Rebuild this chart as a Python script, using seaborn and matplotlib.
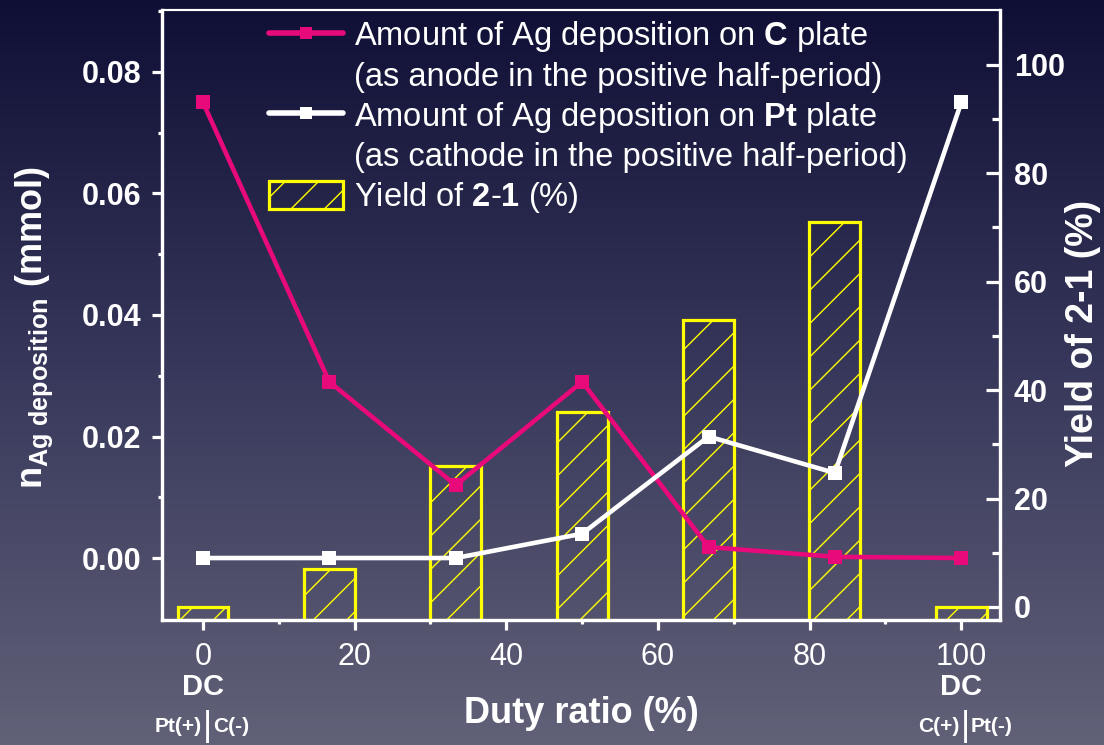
import numpy as np
import pandas as pd
import matplotlib
matplotlib.use("Agg")
import matplotlib.pyplot as plt
import seaborn as sns
from matplotlib.lines import Line2D

# ---- data ----
duty = [0, 16.67, 33.33, 50, 66.67, 83.33, 100]
ag_on_c = [0.075, 0.029, 0.012, 0.029, 0.0018, 0.0002, 0.0]
ag_on_pt = [0.0, 0.0, 0.0, 0.004, 0.020, 0.014, 0.075]
yield_21 = [0, 7, 26, 36, 53, 71, 0]
xticks = [0, 20, 40, 60, 80, 100]
left_ticks = [0.00, 0.02, 0.04, 0.06, 0.08]
right_ticks = [0, 20, 40, 60, 80, 100]

sns.set_theme(style="white")
plt.rcParams["font.family"] = ["Liberation Sans", "DejaVu Sans"]
plt.rcParams["mathtext.fontset"] = "custom"
plt.rcParams["mathtext.rm"] = "Liberation Sans"
plt.rcParams["mathtext.bf"] = "Liberation Sans:bold"
plt.rcParams["mathtext.it"] = "Liberation Sans:italic"
plt.rcParams["hatch.linewidth"] = 1.0

PINK = "#e8097a"
WHITE = "#ffffff"
YELLOW = "#ffff00"

fig = plt.figure(figsize=(11.04, 7.45), dpi=100)

# background gradient
bg = fig.add_axes([0, 0, 1, 1], zorder=-10)
t = np.linspace(0, 1, 256)[:, None]
c_top = np.array([0.06, 0.06, 0.21])
c_mid = np.array([0.22, 0.22, 0.36])
c_bot = np.array([0.38, 0.38, 0.47])
grad = np.where(t < 0.5, c_top + (c_mid - c_top) * (t / 0.5),
                c_mid + (c_bot - c_mid) * ((t - 0.5) / 0.5))
img = np.repeat(grad[:, None, :], 4, axis=1).reshape(256, 4, 3)
bg.imshow(img, aspect="auto", extent=[0, 1, 0, 1], origin="upper")
bg.set_axis_off()

ax = fig.add_axes([162 / 1104, 125 / 745, 838 / 1104, 610 / 745])
ax2 = ax.twinx()
ax.set_zorder(ax2.get_zorder() + 1)
ax.patch.set_visible(False)
ax2.patch.set_visible(False)

XLIM = (-5.4, 105.1)
YL = (-0.0102, 0.0902)
YR = (-2.4, 110.1)

# bars (yield) on right axis
ax2.bar(duty, [v - YR[0] for v in yield_21], bottom=YR[0], width=6.7,
        facecolor="none", edgecolor=YELLOW, linewidth=2.3, hatch="/",
        label=r"Yield of $\mathbf{2}$-$\mathbf{1}$ (%)")

# lines on left axis
df = pd.DataFrame({"duty": duty, "c": ag_on_c, "pt": ag_on_pt})
sns.lineplot(data=df, x="duty", y="c", ax=ax, color=PINK, linewidth=3.3,
             marker="s", markersize=10, markeredgewidth=0)
sns.lineplot(data=df, x="duty", y="pt", ax=ax, color=WHITE, linewidth=3.3,
             marker="s", markersize=10, markeredgewidth=0)

ax.set_xlim(*XLIM)
ax.set_ylim(*YL)
ax2.set_ylim(*YR)

ax.set_xticks(xticks)
ax.set_xticks([10, 30, 50, 70, 90], minor=True)
ax.set_yticks(left_ticks)
ax.set_yticklabels([f"{v:.2f}" for v in left_ticks])
ax.set_yticks([0.01, 0.03, 0.05, 0.07, 0.09], minor=True)
ax2.set_yticks(right_ticks)
ax2.set_yticks([10, 30, 50, 70, 90], minor=True)

for a in (ax, ax2):
    for s in a.spines.values():
        s.set_color(WHITE)
        s.set_linewidth(2.3)
    a.spines["top"].set_linewidth(1.5)

ax.tick_params(axis="x", which="major", direction="out", length=7, width=2.3,
               colors=WHITE, labelsize=22, pad=9, bottom=True)
ax.tick_params(axis="x", which="minor", direction="out", length=3, width=2.3,
               colors=WHITE, bottom=True)
ax.tick_params(axis="y", which="major", direction="out", length=7, width=2.3,
               colors=WHITE, labelsize=22, pad=8, left=True)
ax.tick_params(axis="y", which="minor", direction="out", length=3, width=2.3,
               colors=WHITE, left=True)
ax2.tick_params(axis="y", which="major", direction="in", length=10, width=2.3,
                colors=WHITE, labelsize=22, pad=10, right=True)
ax2.tick_params(axis="y", which="minor", direction="in", length=6, width=2.3,
                colors=WHITE, right=True)
for lab in ax.get_yticklabels() + ax2.get_yticklabels():
    lab.set_fontweight("bold")

ax.set_xlabel("Duty ratio (%)", fontsize=26, fontweight="bold", color=WHITE)
ax.xaxis.set_label_coords(0.5, -0.124)
ax.set_ylabel(r"$\mathbf{n}_{\mathbf{Ag\ deposition}}$ (mmol)", fontsize=26,
              fontweight="bold", color=WHITE)
ax.yaxis.set_label_coords(-0.128, 0.48)
ax2.set_ylabel("Yield of 2-1 (%)", fontsize=27, fontweight="bold",
               color=WHITE)
ax2.yaxis.set_label_coords(1.077, 0.47)

# DC annotations below the end ticks
trans = ax.get_xaxis_transform()
for xv, left_txt, right_txt in [(0, "Pt(+)", "C(-)"), (100, "C(+)", "Pt(-)")]:
    ax.annotate("DC", xy=(xv, 0), xycoords=trans, xytext=(0, -48),
                textcoords="offset points", ha="center", va="center",
                fontsize=21, fontweight="bold", color=WHITE, annotation_clip=False)
    ax.annotate("|", xy=(xv, 0), xycoords=trans, xytext=(3, -77),
                textcoords="offset points", ha="center", va="center",
                fontsize=25, color=WHITE, annotation_clip=False)
    ax.annotate(left_txt, xy=(xv, 0), xycoords=trans, xytext=(-1, -77),
                textcoords="offset points", ha="right", va="center",
                fontsize=15, fontweight="bold", color=WHITE, annotation_clip=False)
    ax.annotate(right_txt, xy=(xv, 0), xycoords=trans, xytext=(7, -77),
                textcoords="offset points", ha="left", va="center",
                fontsize=15, fontweight="bold", color=WHITE, annotation_clip=False)

# legend
bar_handle = ax2.get_legend_handles_labels()[0][0]
h_c = Line2D([], [], color=PINK, linewidth=4, marker="s", markersize=8,
             markeredgewidth=0)
h_pt = Line2D([], [], color=WHITE, linewidth=4, marker="s", markersize=8,
              markeredgewidth=0)
h_none = Line2D([], [], color="none")
handles = [h_c, h_none, h_pt, h_none, bar_handle]
labels = [r"Amount of Ag deposition on $\mathbf{C}$ plate",
          "(as anode in the positive half-period)",
          r"Amount of Ag deposition on $\mathbf{Pt}$ plate",
          "(as cathode in the positive half-period)",
          r"Yield of $\mathbf{2}$-$\mathbf{1}$ (%)"]
leg = ax.legend(handles, labels, loc="upper left",
                bbox_to_anchor=(0.128, 0.985), frameon=False, fontsize=23.5,
                handlelength=2.25, handleheight=0.95, handletextpad=0.35,
                labelspacing=0.2, borderpad=0, borderaxespad=0, numpoints=1)
for txt in leg.get_texts():
    txt.set_color(WHITE)

fig.savefig("out.png", dpi=100)
